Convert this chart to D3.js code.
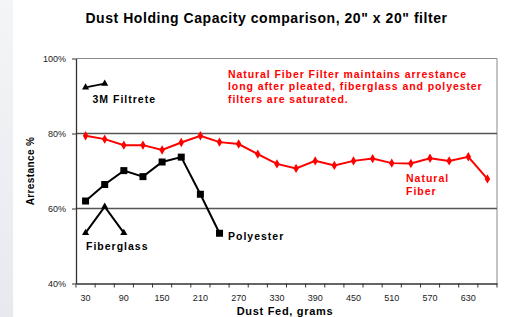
<!DOCTYPE html>
<html>
<head>
<meta charset="utf-8">
<script src="https://cdn.jsdelivr.net/npm/d3@7"></script>
<style>
  html, body { margin: 0; padding: 0; background: #fff; }
  svg { display: block; }
  text { font-family: "Liberation Sans", Arial, sans-serif; }
</style>
</head>
<body>
<svg id="chart" width="513" height="317"></svg>
<script>
// ---- data ----
const categories = [30, 60, 90, 120, 150, 180, 210, 240, 270, 300, 330, 360, 390, 420, 450, 480, 510, 540, 570, 600, 630, 660];
const tickLabels = [30, 90, 150, 210, 270, 330, 390, 450, 510, 570, 630];
const yTicks = [40, 60, 80, 100];

const naturalFiber = [79.4, 78.5, 76.9, 76.9, 75.6, 77.6, 79.4, 77.7, 77.2, 74.5, 71.9, 70.7, 72.7, 71.5, 72.7, 73.3, 72.1, 72.0, 73.4, 72.7, 73.8, 67.9];
const polyesterCats = [30, 60, 90, 120, 150, 180, 210, 240];
const polyester = [62.0, 66.4, 70.1, 68.5, 72.4, 73.7, 63.8, 53.4];
const fiberglassCats = [30, 60, 90];
const fiberglass = [53.5, 60.5, 53.5];
const filtreteCats = [30, 60];
const filtrete = [92.3, 93.3];

const svg = d3.select("#chart");

// slide background strip on the left
const defs = svg.append("defs");
const grad = defs.append("linearGradient").attr("id", "bg").attr("x1", 0).attr("x2", 0).attr("y1", 0).attr("y2", 1);
grad.append("stop").attr("offset", "0%").attr("stop-color", "#f3f5f7");
grad.append("stop").attr("offset", "100%").attr("stop-color", "#e6eaef");
svg.append("rect").attr("x", 0).attr("y", 0).attr("width", 13).attr("height", 317).attr("fill", "url(#bg)");

const L = 76, R = 497, T = 58.5, B = 283.5;
const x = d3.scaleBand().domain(categories).range([L, R]).padding(0);
const cx = c => x(c) + x.bandwidth() / 2;
const y = d3.scaleLinear().domain([40, 100]).range([B, T]);

// plot frame (top/right gray)
svg.append("line").attr("x1", L).attr("x2", R).attr("y1", y(100)).attr("y2", y(100)).attr("stroke", "#8a8a8a").attr("stroke-width", 1);
svg.append("line").attr("x1", R).attr("x2", R).attr("y1", y(100)).attr("y2", B).attr("stroke", "#8a8a8a").attr("stroke-width", 1);

// gridlines
svg.append("g").selectAll("line").data([60, 80]).join("line")
  .attr("x1", L).attr("x2", R).attr("y1", d => y(d)).attr("y2", d => y(d))
  .attr("stroke", "#555").attr("stroke-width", 1.3);

// y axis
const yAxis = svg.append("g").attr("transform", `translate(${L},0)`)
  .call(d3.axisLeft(y).tickValues(yTicks).tickFormat(d => d + "%").tickSize(4).tickPadding(6).tickSizeOuter(0));
yAxis.select(".domain").attr("stroke", "#333").attr("stroke-width", 1.3);
yAxis.selectAll(".tick line").attr("stroke", "#333");
yAxis.selectAll("text").attr("font-size", 9).attr("fill", "#222").attr("font-family", "Liberation Sans, Arial, sans-serif");

// x axis: labels at category centers
const xAxis = svg.append("g").attr("transform", `translate(0,${B})`)
  .call(d3.axisBottom(x).tickValues(tickLabels).tickSize(0).tickPadding(11.5).tickSizeOuter(0));
xAxis.select(".domain").attr("stroke", "#333").attr("stroke-width", 1.3);
xAxis.selectAll("text").attr("font-size", 9).attr("fill", "#222").attr("font-family", "Liberation Sans, Arial, sans-serif");
// tick marks at category boundaries
const bounds = categories.map(c => x(c)).concat([x.range()[1]]);
svg.append("g").selectAll("line").data(bounds).join("line")
  .attr("x1", d => d).attr("x2", d => d).attr("y1", B).attr("y2", B + 4)
  .attr("stroke", "#333").attr("stroke-width", 1);

// lines
const line = d3.line().x(d => cx(d[0])).y(d => y(d[1]));
const nfData = categories.map((c, i) => [c, naturalFiber[i]]);
const pData = polyesterCats.map((c, i) => [c, polyester[i]]);
const fgData = fiberglassCats.map((c, i) => [c, fiberglass[i]]);
const fData = filtreteCats.map((c, i) => [c, filtrete[i]]);

svg.append("path").datum(nfData).attr("d", line).attr("fill", "none").attr("stroke", "#ff0000").attr("stroke-width", 2);
svg.append("path").datum(pData).attr("d", line).attr("fill", "none").attr("stroke", "#000").attr("stroke-width", 2);
svg.append("path").datum(fgData).attr("d", line).attr("fill", "none").attr("stroke", "#000").attr("stroke-width", 2);
svg.append("path").datum(fData).attr("d", line).attr("fill", "none").attr("stroke", "#000").attr("stroke-width", 2);

// markers
svg.append("g").selectAll("path").data(nfData).join("path")
  .attr("d", d3.symbol().type(d3.symbolDiamond).size(26))
  .attr("transform", d => `translate(${cx(d[0])},${y(d[1])})`)
  .attr("fill", "#ff0000");
svg.append("g").selectAll("rect").data(pData).join("rect")
  .attr("x", d => cx(d[0]) - 3.5).attr("y", d => y(d[1]) - 3.5)
  .attr("width", 7).attr("height", 7).attr("fill", "#000");
svg.append("g").selectAll("path").data(fgData.concat(fData)).join("path")
  .attr("d", d3.symbol().type(d3.symbolTriangle).size(22))
  .attr("transform", d => `translate(${cx(d[0])},${y(d[1])})`)
  .attr("fill", "#000");

// title
svg.append("text").attr("x", 266.5).attr("y", 23.3).attr("text-anchor", "middle")
  .attr("font-size", 14).attr("font-weight", "bold").attr("letter-spacing", "0.55px").attr("fill", "#000")
  .text('Dust Holding Capacity comparison, 20" x 20" filter');

// axis titles
svg.append("text").attr("transform", "translate(33.5,171) rotate(-90)").attr("text-anchor", "middle")
  .attr("font-size", 10).attr("font-weight", "bold").attr("letter-spacing", "0.4px").attr("fill", "#000").text("Arrestance %");
svg.append("text").attr("x", 285).attr("y", 314.5).attr("text-anchor", "middle")
  .attr("font-size", 11).attr("font-weight", "bold").attr("letter-spacing", "0.7px").attr("fill", "#000").text("Dust Fed, grams");

// annotations
const note = ["Natural Fiber Filter maintains arrestance", "long after pleated, fiberglass and polyester", "filters are saturated."];
svg.append("g").selectAll("text").data(note).join("text")
  .attr("x", 228).attr("y", (d, i) => 77.8 + i * 12.6)
  .attr("font-size", 10.5).attr("font-weight", "bold").attr("letter-spacing", "0.92px").attr("fill", "#ff0000").text(d => d);

const seriesLabels = [
  { t: "3M Filtrete", x: 92.5, y: 103, c: "#000" },
  { t: "Fiberglass", x: 86, y: 249.5, c: "#000" },
  { t: "Polyester", x: 228, y: 240, c: "#000" },
  { t: "Natural", x: 406, y: 182, c: "#ff0000" },
  { t: "Fiber", x: 406, y: 195, c: "#ff0000" }
];
svg.append("g").selectAll("text").data(seriesLabels).join("text")
  .attr("x", d => d.x).attr("y", d => d.y).attr("fill", d => d.c)
  .attr("font-size", 10.5).attr("font-weight", "bold").attr("letter-spacing", "1px").text(d => d.t);
</script>
</body>
</html>
